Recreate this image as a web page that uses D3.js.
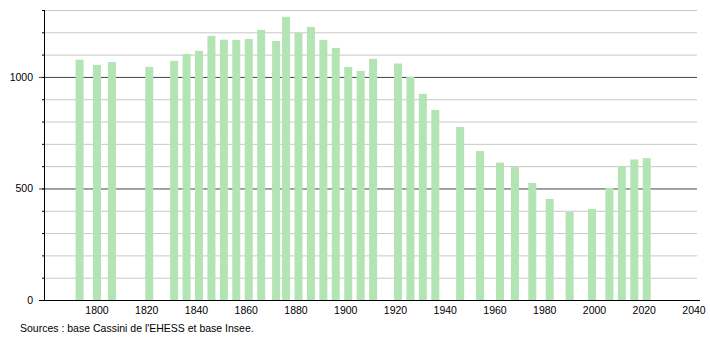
<!DOCTYPE html>
<html>
<head>
<meta charset="utf-8">
<script src="https://cdn.jsdelivr.net/npm/d3@7"></script>
<style>
  body { margin: 0; background: #fff; }
  text { font-family: "Liberation Sans", Arial, sans-serif; fill: #000; }
</style>
</head>
<body>
<svg id="chart"></svg>
<script>
// recensements
const years = [1793, 1800, 1806, 1821, 1831, 1836, 1841, 1846, 1851, 1856, 1861, 1866, 1872, 1876,
  1881, 1886, 1891, 1896, 1901, 1906, 1911, 1921, 1926, 1931, 1936, 1946, 1954, 1962, 1968,
  1975, 1982, 1990, 1999, 2006, 2011, 2016, 2021];
const population = [1077, 1054, 1067, 1045, 1072, 1103, 1117, 1184, 1167, 1166, 1170, 1211, 1161, 1269,
  1197, 1224, 1166, 1130, 1045, 1027, 1081, 1060, 1000, 924, 852, 776, 668, 616, 596,
  525, 453, 395, 408, 502, 601, 630, 636];
const yearTicks = [1800, 1820, 1840, 1860, 1880, 1900, 1920, 1940, 1960, 1980, 2000, 2020, 2040];
const popTicks = [0, 500, 1000];
const source = "Sources : base Cassini de l'EHESS et base Insee.";

const width = 710, height = 340;
const svg = d3.select("#chart").attr("width", width).attr("height", height);

const x = d3.scaleLinear().domain([1800, 2040]).range([97, 694]);
const y = d3.scaleLinear().domain([0, 1300]).range([300, 10]);
const axisLeft = 44, axisRight = 700;

// grille
const minor = d3.range(100, 1400, 100).filter(v => v % 500 !== 0);
svg.append("g").selectAll("line").data(minor).enter().append("line")
  .attr("x1", axisLeft).attr("x2", axisRight - 3)
  .attr("y1", d => y(d) + 0.5).attr("y2", d => y(d) + 0.5)
  .attr("stroke", "#c8c8c8").attr("stroke-width", 1);

svg.append("g").selectAll("line").data(popTicks.filter(v => v > 0)).enter().append("line")
  .attr("x1", axisLeft - 5).attr("x2", axisRight - 3)
  .attr("y1", d => y(d) + 0.5).attr("y2", d => y(d) + 0.5)
  .attr("stroke", "#444").attr("stroke-width", 1);

// barres
svg.append("g").selectAll("rect").data(years).enter().append("rect")
  .attr("x", d => x(d) - 4)
  .attr("width", 8)
  .attr("y", (d, i) => y(population[i]))
  .attr("height", (d, i) => y(0) - y(population[i]))
  .attr("fill", "#b3e4b3");

// axes
svg.append("line")
  .attr("x1", axisLeft + 0.5).attr("x2", axisLeft + 0.5)
  .attr("y1", y(1300)).attr("y2", y(0))
  .attr("stroke", "#000");
svg.append("line")
  .attr("x1", axisLeft - 5).attr("x2", axisRight)
  .attr("y1", y(0) + 0.5).attr("y2", y(0) + 0.5)
  .attr("stroke", "#000");

svg.append("g").selectAll("line").data(d3.range(100, 1400, 100)).enter().append("line")
  .attr("x1", axisLeft - 2).attr("x2", axisLeft)
  .attr("y1", d => y(d) + 0.5).attr("y2", d => y(d) + 0.5)
  .attr("stroke", "#000");

svg.append("g").selectAll("text").data(popTicks).enter().append("text")
  .attr("x", 33).attr("y", d => y(d) + 4)
  .attr("text-anchor", "end")
  .style("font-size", "10.5px")
  .text(d => d);

svg.append("g").selectAll("text").data(yearTicks).enter().append("text")
  .attr("x", d => x(d)).attr("y", 314)
  .attr("text-anchor", "middle")
  .style("font-size", "10.5px")
  .text(d => d);

svg.append("text")
  .attr("x", 20).attr("y", 332)
  .style("font-size", "10.5px")
  .text(source);
</script>
</body>
</html>
